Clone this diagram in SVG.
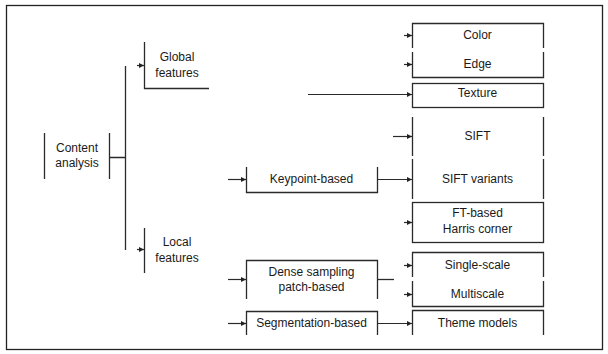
<svg xmlns="http://www.w3.org/2000/svg" width="608" height="354" viewBox="0 0 608 354">
<defs>
<marker id="ah" markerUnits="userSpaceOnUse" markerWidth="6" markerHeight="6" refX="5" refY="3" orient="auto">
<path d="M0,0.6 L5,3 L0,5.4 z" fill="#222"/>
</marker>
<style>
.ln{fill:none;stroke:#2a2a2a;stroke-width:1.3}
.ar{fill:none;stroke:#2a2a2a;stroke-width:1.2;marker-end:url(#ah)}
text{font-family:"Liberation Sans",Arial,sans-serif;font-size:12px;fill:#1a1a1a;text-anchor:middle}
</style>
</defs>
<rect x="0" y="0" width="608" height="354" fill="#fff"/>
<rect x="6.5" y="5.5" width="596" height="344" fill="none" stroke="#222" stroke-width="1.3"/>

<g id="content-analysis">
<path class="ln" d="M44.5,133 V179 M109.5,133 V179"/>
<text x="77" y="152">Content</text>
<text x="77" y="167">analysis</text>
</g>
<g id="global-features">
<path class="ln" d="M144.5,42 V88.5 H209"/>
<text x="177" y="61">Global</text>
<text x="177" y="77">features</text>
</g>
<g id="local-features">
<path class="ln" d="M144.5,228 V273"/>
<text x="177" y="246">Local</text>
<text x="177" y="262">features</text>
</g>
<g id="keypoint-based">
<path class="ln" d="M246.5,167 V192.5 H377.5 V167"/>
<text x="311.5" y="183">Keypoint-based</text>
</g>
<g id="dense-sampling">
<path class="ln" d="M246.5,299 V260.5 H377.5 V299"/>
<text x="311.5" y="276">Dense sampling</text>
<text x="311.5" y="291">patch-based</text>
</g>
<g id="segmentation-based">
<path class="ln" d="M246.5,335 V311.5 H377.5 V335"/>
<text x="311.5" y="327">Segmentation-based</text>
</g>
<g id="color">
<path class="ln" d="M412.5,48 V23.5 H543.5 V48"/>
<text x="477.5" y="39">Color</text>
</g>
<g id="edge">
<path class="ln" d="M412.5,52 V77.5 H543.5 V52"/>
<text x="477.5" y="68">Edge</text>
</g>
<g id="texture">
<rect class="ln" x="412.5" y="83.5" width="131" height="24"/>
<text x="477.5" y="97">Texture</text>
</g>
<g id="sift">
<path class="ln" d="M412.5,117 V156 M543.5,117 V156"/>
<text x="477.5" y="140">SIFT</text>
</g>
<g id="sift-variants">
<path class="ln" d="M412.5,159 V199 M543.5,159 V199"/>
<text x="477.5" y="183">SIFT variants</text>
</g>
<g id="ft-harris">
<rect class="ln" x="412.5" y="202.5" width="131" height="40"/>
<text x="477.5" y="217">FT-based</text>
<text x="477.5" y="233">Harris corner</text>
</g>
<g id="single-scale">
<path class="ln" d="M412.5,277 V252.5 H543.5 V277"/>
<text x="477.5" y="269">Single-scale</text>
</g>
<g id="multiscale">
<path class="ln" d="M412.5,281 V306.5 H543.5 V281"/>
<text x="477.5" y="298">Multiscale</text>
</g>
<g id="theme-models">
<path class="ln" d="M412.5,335 V310.5 H543.5 V335"/>
<text x="477.5" y="327">Theme models</text>
</g>

<g id="connectors">
<path class="ln" d="M109.5,157.5 H125.5 M125.5,66 V250"/>
<path class="ar" d="M137,65.5 H144"/>
<path class="ar" d="M137,249.5 H144"/>
<path class="ar" d="M404,35.5 H412"/>
<path class="ar" d="M404,64.5 H412"/>
<path class="ar" d="M308,94.5 H412"/>
<path class="ar" d="M393,136.5 H412"/>
<path class="ar" d="M377.5,179.5 H412"/>
<path class="ar" d="M404,222.5 H412"/>
<path class="ar" d="M404,265.5 H412"/>
<path class="ar" d="M404,294.5 H412"/>
<path class="ln" d="M377.5,279.5 H394"/>
<path class="ar" d="M377.5,323.5 H412"/>
<path class="ar" d="M228,179.5 H246"/>
<path class="ar" d="M228,279.5 H246"/>
<path class="ar" d="M228,323.5 H246"/>
</g>
</svg>
